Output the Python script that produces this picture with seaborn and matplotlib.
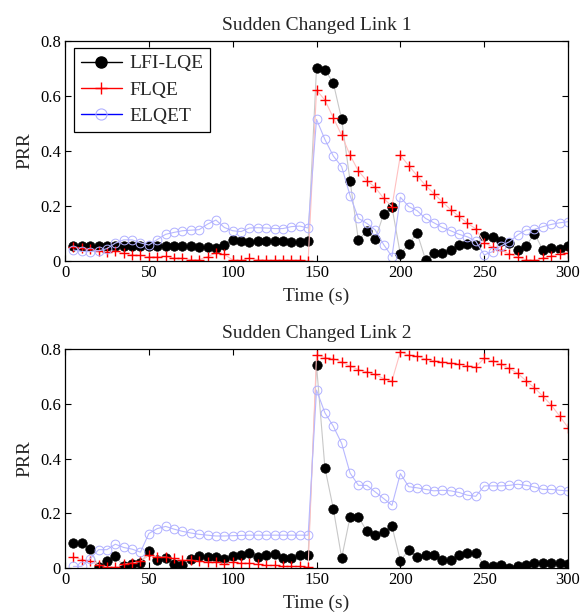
import matplotlib
matplotlib.use("Agg")
import matplotlib.pyplot as plt
from matplotlib.lines import Line2D
import seaborn as sns
import pandas as pd

time = [5, 10, 15, 20, 25, 30, 35, 40, 45, 50, 55, 60, 65, 70, 75, 80, 85, 90, 95, 100,
        105, 110, 115, 120, 125, 130, 135, 140, 145, 150, 155, 160, 165, 170, 175, 180, 185, 190, 195, 200,
        205, 210, 215, 220, 225, 230, 235, 240, 245, 250, 255, 260, 265, 270, 275, 280, 285, 290, 295, 300]

link1_lfi = [0.055, 0.055, 0.055, 0.055, 0.055, 0.053, 0.053, 0.053, 0.053, 0.053,
             0.053, 0.055, 0.055, 0.053, 0.053, 0.050, 0.050, 0.046, 0.058, 0.076,
             0.072, 0.070, 0.072, 0.072, 0.072, 0.072, 0.070, 0.070, 0.072, 0.703,
             0.695, 0.648, 0.515, 0.292, 0.075, 0.110, 0.079, 0.170, 0.196, 0.024,
             0.063, 0.102, 0.005, 0.029, 0.030, 0.040, 0.059, 0.062, 0.060, 0.090,
             0.088, 0.072, 0.064, 0.040, 0.055, 0.100, 0.040, 0.048, 0.043, 0.056]
link1_flqe = [0.050, 0.046, 0.042, 0.037, 0.033, 0.036, 0.029, 0.023, 0.020, 0.016,
              0.016, 0.017, 0.011, 0.011, 0.005, 0.005, 0.016, 0.029, 0.024, 0.004,
              0.002, 0.010, 0.005, 0.003, 0.003, 0.003, 0.003, 0.003, 0.001, 0.622,
              0.585, 0.521, 0.457, 0.385, 0.327, 0.292, 0.268, 0.228, 0.198, 0.384,
              0.347, 0.310, 0.275, 0.245, 0.215, 0.187, 0.162, 0.137, 0.117, 0.067,
              0.051, 0.039, 0.026, 0.014, 0.005, 0.003, 0.011, 0.018, 0.027, 0.030]
link1_elqet = [0.040, 0.035, 0.034, 0.037, 0.045, 0.065, 0.077, 0.077, 0.066, 0.058,
               0.078, 0.097, 0.104, 0.110, 0.112, 0.114, 0.134, 0.149, 0.122, 0.110,
               0.107, 0.120, 0.121, 0.120, 0.118, 0.118, 0.125, 0.127, 0.120, 0.515,
               0.442, 0.382, 0.343, 0.238, 0.155, 0.137, 0.113, 0.060, 0.016, 0.232,
               0.198, 0.183, 0.155, 0.139, 0.122, 0.110, 0.097, 0.088, 0.072, 0.022,
               0.034, 0.055, 0.070, 0.095, 0.113, 0.115, 0.125, 0.133, 0.139, 0.143]

link2_lfi = [0.093, 0.093, 0.068, 0.004, 0.026, 0.044, 0.006, 0.014, 0.018, 0.062,
             0.028, 0.037, 0.016, 0.010, 0.034, 0.043, 0.040, 0.040, 0.034, 0.043,
             0.047, 0.054, 0.040, 0.048, 0.053, 0.038, 0.038, 0.046, 0.046, 0.741,
             0.366, 0.217, 0.037, 0.186, 0.186, 0.135, 0.120, 0.132, 0.152, 0.027,
             0.065, 0.040, 0.049, 0.049, 0.028, 0.028, 0.046, 0.056, 0.055, 0.010,
             0.006, 0.012, 0.000, 0.006, 0.010, 0.018, 0.018, 0.018, 0.018, 0.016]
link2_flqe = [0.040, 0.031, 0.024, 0.012, 0.004, 0.002, 0.014, 0.018, 0.024, 0.046,
              0.040, 0.040, 0.035, 0.029, 0.029, 0.024, 0.022, 0.022, 0.016, 0.022,
              0.018, 0.018, 0.014, 0.010, 0.010, 0.006, 0.006, 0.006, 0.004, 0.778,
              0.769, 0.765, 0.753, 0.737, 0.725, 0.717, 0.707, 0.692, 0.684, 0.790,
              0.778, 0.774, 0.763, 0.757, 0.753, 0.750, 0.745, 0.739, 0.735, 0.766,
              0.757, 0.745, 0.729, 0.711, 0.684, 0.658, 0.628, 0.595, 0.555, 0.513]
link2_elqet = [0.006, 0.006, 0.034, 0.067, 0.067, 0.087, 0.075, 0.069, 0.058, 0.126,
               0.144, 0.152, 0.142, 0.134, 0.128, 0.123, 0.120, 0.117, 0.117, 0.118,
               0.119, 0.120, 0.120, 0.120, 0.120, 0.120, 0.120, 0.120, 0.120, 0.650,
               0.567, 0.518, 0.455, 0.347, 0.302, 0.302, 0.278, 0.254, 0.229, 0.345,
               0.297, 0.293, 0.287, 0.282, 0.284, 0.282, 0.276, 0.266, 0.262, 0.300,
               0.300, 0.300, 0.302, 0.306, 0.302, 0.296, 0.287, 0.287, 0.284, 0.282]

titles = ["Sudden Changed Link 1", "Sudden Changed Link 2"]
series_names = ["LFI-LQE", "FLQE", "ELQET"]
x_ticks = [0, 50, 100, 150, 200, 250, 300]
y_ticks = [0, 0.2, 0.4, 0.6, 0.8]
y_tick_labels = ["0", "0.2", "0.4", "0.6", "0.8"]

sns.set_style("ticks")
plt.rcParams["font.family"] = ["Liberation Serif", "DejaVu Serif"]
plt.rcParams["xtick.direction"] = "in"
plt.rcParams["ytick.direction"] = "in"

fig = plt.figure(figsize=(5.82, 6.16), dpi=100)
ax1 = fig.add_axes([0.1117, 0.5763, 0.8643, 0.3571])
ax2 = fig.add_axes([0.1117, 0.0779, 0.8643, 0.3555])

styles = {
    "LFI-LQE": dict(line="#c8c8c8", marker="o", mfc="black", mec="black", ms=6.8, mew=0.5),
    "FLQE": dict(line="#ffc0c0", marker="+", mfc="red", mec="red", ms=6.5, mew=1.0),
    "ELQET": dict(line="#b8b8ff", marker="o", mfc="none", mec="#b0b0ff", ms=6.3, mew=0.7),
}

panels = [(ax1, [link1_lfi, link1_flqe, link1_elqet]),
          (ax2, [link2_lfi, link2_flqe, link2_elqet])]

for (ax, vals), title in zip(panels, titles):
    for name, v in zip(series_names, vals):
        st = styles[name]
        df = pd.DataFrame({"Time": time, "PRR": v})
        sns.lineplot(data=df, x="Time", y="PRR", ax=ax, color=st["line"], linewidth=0.8,
                     marker=st["marker"], markerfacecolor=st["mfc"], markeredgecolor=st["mec"],
                     markersize=st["ms"], markeredgewidth=st["mew"], legend=False)
    ax.set_xlim(0, 300)
    ax.set_ylim(0, 0.8)
    ax.set_xticks(x_ticks)
    ax.set_xticklabels([str(t) for t in x_ticks], fontsize=12)
    ax.set_yticks(y_ticks)
    ax.set_yticklabels(y_tick_labels, fontsize=12)
    ax.tick_params(axis="both", which="both", direction="in", top=True, right=True,
                   length=4, width=0.8, pad=3, colors="black")
    for s in ax.spines.values():
        s.set_visible(True)
        s.set_color("black")
        s.set_linewidth(0.9)
    ax.set_xlabel("Time (s)", fontsize=14, labelpad=5)
    ax.set_ylabel("PRR", fontsize=14, labelpad=5)
    ax.set_title(title, fontsize=14, pad=8)

handles = [
    Line2D([], [], color="black", marker="o", markerfacecolor="black", markeredgecolor="black",
           markersize=8, linewidth=1.0),
    Line2D([], [], color="red", marker="+", markeredgecolor="red", markersize=8,
           markeredgewidth=1.0, linewidth=1.0),
    Line2D([], [], color="blue", marker="o", markerfacecolor="none", markeredgecolor="#b0b0ff",
           markersize=8, markeredgewidth=0.8, linewidth=1.0),
]
leg = ax1.legend(handles, series_names, loc="upper left", bbox_to_anchor=(0.018, 0.968),
                 borderaxespad=0, fontsize=14, frameon=True, fancybox=False,
                 edgecolor="black", framealpha=1, handlelength=2.1, handletextpad=0.4,
                 labelspacing=0.45, borderpad=0.35)
leg.get_frame().set_linewidth(0.9)

fig.savefig("out.png", dpi=100)
